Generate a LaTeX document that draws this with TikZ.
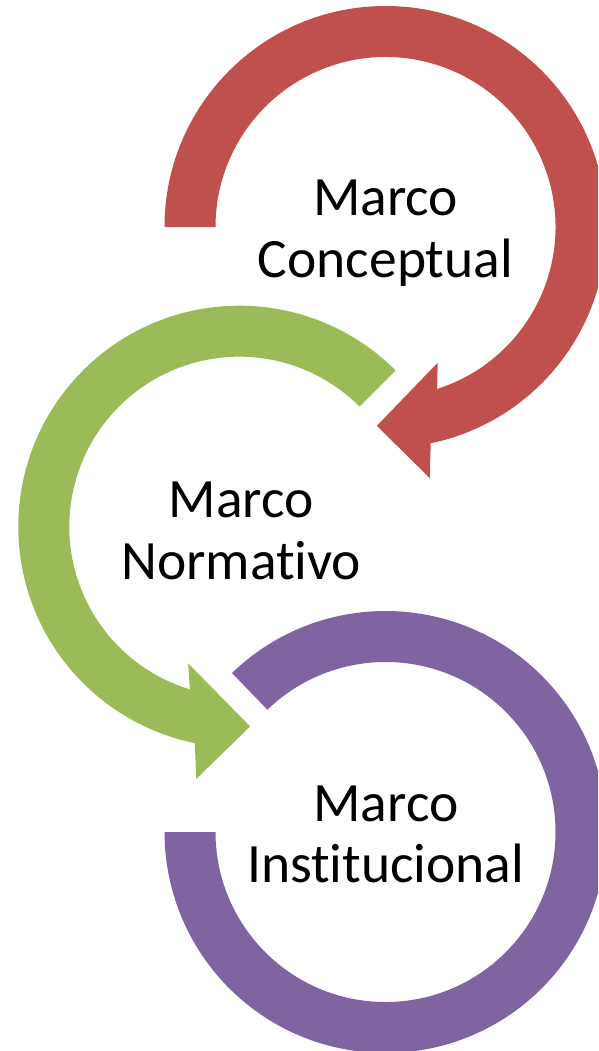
\documentclass[tikz,border=0pt]{standalone}
\usepackage{fontspec}
\setmainfont{Carlito}[Ligatures={NoCommon}]
\usetikzlibrary{calc}
\definecolor{redc}{HTML}{C0504D}
\definecolor{greenc}{HTML}{9BBB59}
\definecolor{purplec}{HTML}{8064A2}
\tikzset{
  lbl/.style={anchor=base, inner sep=0pt, text=black, font=\fontsize{55.5}{62}\selectfont},
}
\begin{document}
\begin{tikzpicture}[x=1pt,y=1pt]
\useasboundingbox (0,0) rectangle (598,-1051);
\clip (0,0) rectangle (598,-1051);
\coordinate (rc) at (385.5,-227);
\coordinate (gc) at (239.3,-526.7);
\coordinate (pc) at (385.5,-832);
% red circular arrow
\fill[redc] ($(rc)+(180:221)$) arc[start angle=180, end angle=-78.2, radius=221pt]
  -- ($(rc)+(-80:255)$) -- ($(rc)+(-92.5:199)$) -- ($(rc)+(-69:145.5)$)
  -- ($(rc)+(-72.3:170)$) arc[start angle=-72.3, end angle=180, radius=170pt] -- cycle;
% green circular arrow
\fill[greenc] ($(gc)+(45:221)$) arc[start angle=45, end angle=258.4, radius=221pt]
  -- ($(gc)+(260.3:256)$) -- ($(gc)+(273.1:200)$) -- ($(gc)+(249.5:146)$)
  -- ($(gc)+(253.1:170)$) arc[start angle=253.1, end angle=45, radius=170pt] -- cycle;
% purple arc
\fill[purplec] ($(pc)+(134:221)$) arc[start angle=134, end angle=-180, radius=221pt]
  -- ($(pc)+(180:170)$) arc[start angle=-180, end angle=134, radius=170pt] -- cycle;
% labels
\node[lbl] (r1) at (385.5,-215) {Marco};
\node[lbl] (r2) at (385.5,-277) {Conceptual};
\node[lbl] (g1) at (241.2,-517.3) {Marco};
\node[lbl] (g2) at (241.2,-579) {Normativo};
\node[lbl] (p1) at (385.8,-821) {Marco};
\node[lbl] (p2) at (385.8,-882.7) {Institucional};
\end{tikzpicture}
\end{document}
